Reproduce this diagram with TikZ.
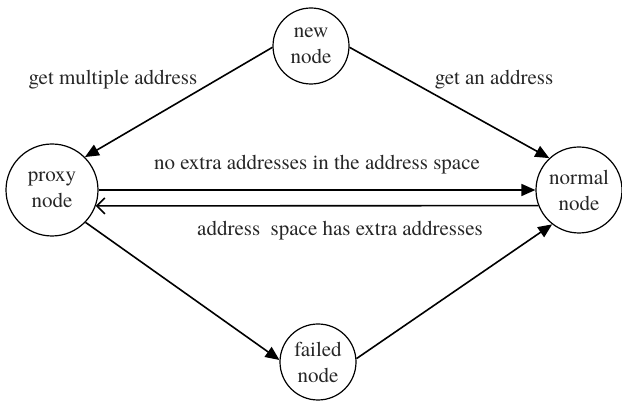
\documentclass[tikz,border=0pt]{standalone}
\usepackage{fontspec}
\setmainfont{TeX Gyre Termes}
\usetikzlibrary{arrows.meta}
\begin{document}
\begin{tikzpicture}[x=1pt,y=1pt,
  state/.style={circle,draw,line width=1.2pt,inner sep=0pt,align=center,text=black!85,font=\fontsize{21}{26}\selectfont},
  lbl/.style={font=\fontsize{21}{26}\selectfont,inner sep=0pt,text=black!85},
  edge/.style={line width=1.6pt,-{Triangle[length=14pt,width=12pt]}},
  backedge/.style={line width=1.6pt,-{Straight Barb[length=8pt,width=16pt]}}]
\useasboundingbox (0,0) rectangle (622,401);
\node[state,minimum size=76pt] (new) at (311,355) {new\\node};
\node[state,minimum size=92pt] (proxy) at (52,211) {proxy\\node};
\node[state,minimum size=86pt] (normal) at (579,211) {normal\\node};
\node[state,minimum size=76pt] (failed) at (318,39) {failed\\node};
\draw[edge] (new.182) -- (proxy.45);
\draw[edge] (new.-2) -- (normal.133);
\draw[edge] (proxy.east) -- (normal.west);
\draw[backedge] (normal.201.8) -- (proxy.-20.4);
\draw[edge] (proxy.-44) -- (failed.177);
\draw[edge] (failed.5) -- (normal.232);
\node[lbl] (l1) at (113,321) {get multiple address};
\node[lbl] (l2) at (494,321) {get an address};
\node[lbl] (l3) at (317,236) {no extra addresses in the address space};
\node[lbl] (l4) at (340,170) {address\ \ space has extra addresses};
\end{tikzpicture}
\end{document}
